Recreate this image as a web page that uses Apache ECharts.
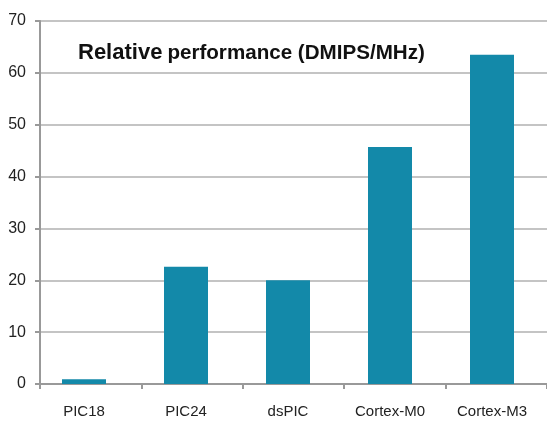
<!DOCTYPE html>
<html>
<head>
<meta charset="utf-8">
<script src="https://cdn.jsdelivr.net/npm/echarts@6/dist/echarts.min.js"></script>
<style>
  html, body { margin: 0; padding: 0; background: #fff; }
  #chart { width: 547px; height: 421px; }
</style>
</head>
<body>
<div id="chart"></div>
<script>
// data
const categories = ['PIC18', 'PIC24', 'dsPIC', 'Cortex-M0', 'Cortex-M3']
const dmipsPerMhz = [0.9, 22.6, 20, 45.7, 63.5]

const chart = echarts.init(document.getElementById('chart'))

const labelFont = { color: '#222', fontFamily: 'Liberation Sans' }

const option = {
  animation: false,
  title: {
    text: '{a|Relative} {b|performance (DMIPS/MHz)}',
    left: 73,
    top: 37,
    textStyle: {
      rich: {
        a: { fontFamily: 'Liberation Sans', fontSize: 22, fontWeight: 'bold', color: '#111' },
        b: { fontFamily: 'Liberation Sans', fontSize: 20.6, fontWeight: 'bold', color: '#111' }
      }
    }
  },
  // grid 0 carries the axes and gridlines, grid 1 the bars (the original's bars sit a bit left of the ticks)
  grid: [
    { left: 40, right: 0, top: 21, bottom: 37 },
    { left: 33, right: 4, top: 21, bottom: 37 }
  ],
  xAxis: [
    {
      type: 'category',
      gridIndex: 0,
      data: categories,
      axisLine: { lineStyle: { color: '#999', width: 2 } },
      axisTick: { show: true, length: 5, lineStyle: { color: '#999', width: 2 } },
      axisLabel: { show: false }
    },
    {
      type: 'category',
      gridIndex: 1,
      data: categories,
      axisLine: { show: false },
      axisTick: { show: false },
      axisLabel: Object.assign({ fontSize: 15, margin: 20 }, labelFont)
    }
  ],
  yAxis: [
    {
      type: 'value',
      gridIndex: 0,
      min: 0,
      max: 70,
      interval: 10,
      axisLine: { show: true, lineStyle: { color: '#999', width: 2 } },
      axisTick: { show: true, length: 5, lineStyle: { color: '#999', width: 2 } },
      splitLine: { lineStyle: { color: '#c4c4c4', width: 2 } },
      axisLabel: Object.assign({ fontSize: 16, margin: 14 }, labelFont)
    },
    {
      type: 'value',
      gridIndex: 1,
      min: 0,
      max: 70,
      interval: 10,
      show: false
    }
  ],
  series: [
    {
      type: 'bar',
      xAxisIndex: 1,
      yAxisIndex: 1,
      data: dmipsPerMhz,
      barWidth: 44,
      itemStyle: { color: '#1389a9' }
    }
  ]
}

chart.setOption(option)
</script>
</body>
</html>
